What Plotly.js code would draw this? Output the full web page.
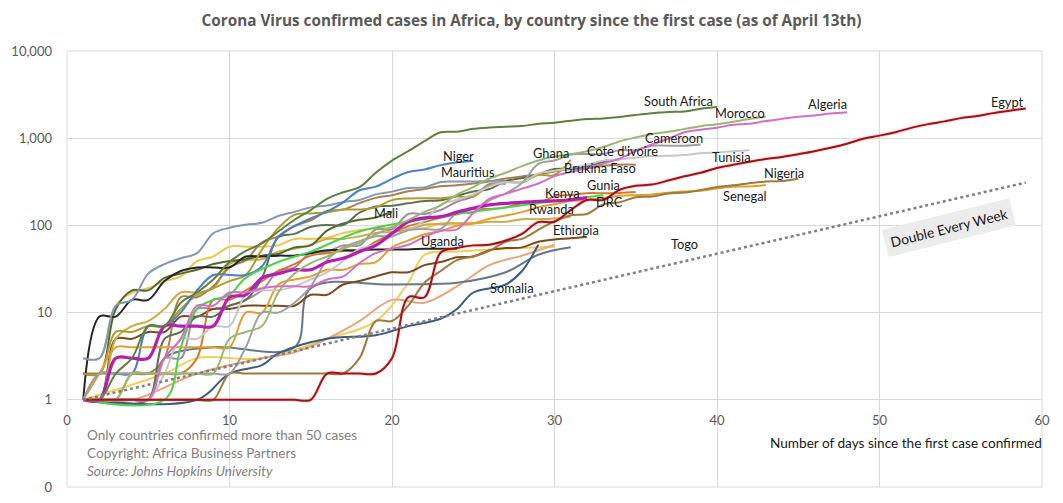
<!DOCTYPE html>
<html><head><meta charset="utf-8">
<script src="https://cdn.plot.ly/plotly-3.0.1.min.js"></script>
<style>html,body{margin:0;padding:0;background:#fff}#chart{width:1063px;height:503px}</style>
</head><body><div id="chart"></div>
<script>
// Daily cumulative confirmed cases, day 1 = first day on the chart
const egypt = [1,1,1,1,1,1,1,1,1,1,1,1,1,1,1,2,2,2,2,3,15,15,49,55,59,60,67,80,109,110,150,196,196,256,285,294,327,366,402,456,495,536,576,609,656,710,779,865,985,1070,1173,1322,1450,1560,1699,1794,1939,2065,2190];
const algeria = [1,1,1,1,1,3,5,12,12,17,17,19,20,20,20,24,26,37,48,54,60,74,87,90,139,201,230,264,302,367,409,454,511,584,716,847,986,1171,1251,1320,1423,1468,1572,1666,1761,1825,1914,1983];
const morocco = [1,1,1,2,2,2,2,2,2,5,6,7,17,28,37,44,54,63,79,96,115,143,170,225,275,345,402,479,556,617,654,708,791,919,1021,1120,1184,1275,1374,1448,1545,1661,1763];
const southAfrica = [1,1,2,3,7,7,13,17,24,38,51,62,85,116,150,202,240,274,402,554,709,927,1170,1187,1280,1326,1353,1380,1462,1505,1585,1655,1686,1749,1845,1934,2003,2028,2173,2272];
const nigeria = [1,1,1,1,1,1,1,1,1,2,2,2,2,2,2,2,2,3,8,8,12,22,30,40,44,51,65,70,89,111,131,135,174,184,210,214,232,238,254,276,288,305,318,323,343];
const senegal = [1,2,4,4,4,4,4,4,4,4,10,10,21,24,26,31,31,36,38,56,67,79,86,99,105,119,130,142,162,175,190,195,207,219,222,226,237,244,250,265,278,280,291];
const tunisia = [1,1,1,1,1,2,5,5,7,7,16,18,18,20,24,29,39,54,60,75,89,114,173,197,227,278,312,312,394,423,455,495,553,574,596,623,628,643,671,685,707,726];
const cameroon = [1,2,2,2,2,2,2,2,2,2,4,10,10,13,20,40,56,66,75,75,88,91,91,139,139,193,233,306,509,555,650,658,658,730,730,820,820,820,848];
const coteDivoire = [1,1,1,1,1,5,6,9,9,12,14,25,73,80,96,101,101,140,165,168,179,190,194,218,245,261,323,349,384,444,444,480,533,574];
const ghana = [2,2,6,6,7,7,11,16,19,23,27,53,93,132,137,141,152,152,161,195,204,205,205,214,214,287,313,313,378,378,566];
const niger = [1,2,2,2,7,7,10,18,27,27,27,34,74,98,120,144,184,253,278,342,410,438,491,529,548];
const mauritius = [3,3,12,14,28,36,42,48,81,94,102,107,128,143,161,169,186,196,227,244,268,273,314,318,319,324,324];
const burkinaFaso = [2,2,2,2,2,3,15,15,20,33,40,64,75,99,114,146,152,180,207,222,246,261,282,288,302,318,345,364,384,414,443,448,484,497,497];
const kenya = [1,1,3,3,3,7,7,7,7,15,16,25,28,31,31,38,42,50,59,81,110,122,126,142,158,172,179,184,189,191,197,208];
const drc = [1,1,1,2,2,2,2,3,14,14,18,23,30,36,45,48,51,51,65,81,98,109,123,134,154,154,161,180,180,215,223,234,234,235,241];
const rwanda = [1,1,5,7,8,11,17,17,19,36,40,41,50,54,60,70,70,75,82,84,89,102,104,105,105,110,110,118,118,120,126];
const ethiopia = [1,1,5,5,6,6,9,9,11,11,12,12,12,12,16,16,21,23,26,29,29,35,38,43,44,52,55,56,65,69,71,74];
const uganda = [1,9,9,14,14,23,30,33,33,33,44,44,45,45,48,52,52,52,53,53,53,54,54,54];
const mali = [2,2,11,18,18,25,28,31,36,39,41,45,47,56,59,87,105,116,123,144];
const djibouti = [1,1,1,1,1,3,3,11,11,12,14,18,30,33,49,50,59,59,90,90,135,135,150,187,214,298,298];
const madagascar = [3,3,12,17,19,23,26,39,44,57,57,57,59,70,70,72,82,88,93,93,93,93,106,106,108];

// Series read at selected days
const guineaDays = [1,6,7,8,9,10,11,13,15,18,21,24,27,30,33];
const guineaCases = [1,1,4,11,14,16,25,38,50,85,110,135,160,190,222];
const somaliaDays = [1,8,10,12,13,16,19,21,23,24,25,27,28,29];
const somaliaCases = [1,1,2,2.5,3.4,5,5.5,7,8.5,11,17,21,30,60];
const congoDays = [1,5,6,9,14,15,20,24,27,29,31];
const congoCases = [1,1,3,4,4,19,21,22,29,46,56];
const gabonDays = [1,6,8,12,16,19,21,22,24,27,30];
const gabonCases = [1,2,3,3,5,8,22,46,50,54,57];
const liberiaDays = [1,4,8,12,14,16,18,20,22,24,26,28,30];
const liberiaCases = [1,1,2,3,3.5,5,8,14,13,20,35,45,60];

// Reference line: doubling every week
const doubleDays = [1,59];
const doubleCases = [1,310];

// Axis ticks
const yTickVals = [0.1,1,10,100,1000,10000];
const yTickText = ['0','1','10','100','1,000','10,000'];
const xTickVals = [0,10,20,30,40,50,60];

// Country labels (day, log10 cases)
const labelText = ['South Africa','Morocco','Algeria','Egypt','Cameroon',"Cote d'ivoire",'Tunisia','Niger','Ghana','Mauritius','Brukina Faso','Nigeria','Gunia','Kenya','DRC','Senegal','Mali','Rwanda','Ethiopia','Uganda','Togo','Somalia'];
const labelDay = [37.6,41.4,46.8,57.9,37.35,34.2,40.9,24.1,29.8,24.7,32.8,44.1,33.0,30.5,33.4,41.7,19.6,29.8,31.3,23.1,38.0,27.4];
const labelLog = [3.427,3.289,3.392,3.415,3.002,2.853,2.784,2.796,2.830,2.610,2.660,2.601,2.465,2.372,2.270,2.337,2.142,2.188,1.947,1.821,1.787,1.282];

const daily = v => v.map((_, i) => i + 1);
function line(xs, ys, color, width) {
  return {x: xs, y: ys, type: 'scatter', mode: 'lines', hoverinfo: 'skip',
    line: {color: color, width: width || 2, shape: 'spline', smoothing: 1}};
}

const traces = [
  line(daily(madagascar), madagascar, '#ecc650'),
  line(gabonDays, gabonCases, '#f0cf5a'),
  line(liberiaDays, liberiaCases, '#e8a57a'),
  line(congoDays, congoCases, '#66778a'),
  line(somaliaDays, somaliaCases, '#3b5c80'),
  line(daily(djibouti), djibouti, '#a38ca8'),
  line(daily(ethiopia), ethiopia, '#7a4a1f'),
  line(daily(rwanda), rwanda, '#c9ad48'),
  line(daily(drc), drc, '#d07a2a'),
  line(daily(burkinaFaso), burkinaFaso, '#a9804c'),
  line(daily(mali), mali, '#4f6b2c'),
  line(daily(uganda), uganda, '#262626'),
  line(daily(coteDivoire), coteDivoire, '#5f7050'),
  line(daily(ghana), ghana, '#b39a2d'),
  line(daily(mauritius), mauritius, '#8197b5'),
  line(daily(niger), niger, '#4b7fbf'),
  line(daily(senegal), senegal, '#e0a030'),
  line(daily(nigeria), nigeria, '#9c7a3c'),
  line(daily(tunisia), tunisia, '#c6c6c6'),
  line(daily(cameroon), cameroon, '#a0a0a0'),
  line(guineaDays, guineaCases, '#4fd14f'),
  line(daily(kenya), kenya, '#b31fb3', 3.2),
  line(daily(morocco), morocco, '#98b872'),
  line(daily(southAfrica), southAfrica, '#5e803f'),
  line(daily(algeria), algeria, '#d36ec8'),
  line(daily(egypt), egypt, 'rgba(230,110,110,0.22)', 4),
  line(daily(egypt), egypt, '#9e1218', 2),
  {x: doubleDays, y: doubleCases, type: 'scatter', mode: 'lines', hoverinfo: 'skip',
   line: {color: '#7f7f7f', width: 2.5, dash: 'dot'}}
];

const font = 'Lato, "Open Sans", sans-serif';
const annotations = labelText.map((t, i) => ({
  x: labelDay[i], y: labelLog[i], xref: 'x', yref: 'y', text: t, showarrow: false, borderpad: 0,
  font: {family: font, size: 12.8, color: '#1a1a1a'}
}));
annotations.push({x: 54.3, y: 1.975, xref: 'x', yref: 'y', text: 'Double Every Week', showarrow: false,
  textangle: -14, bgcolor: '#ececec', borderpad: 5, font: {family: font, size: 13.8, color: '#1a1a1a'}});
const noteFont = {family: font, size: 13.6, color: '#7f7f7f'};
annotations.push({x: 0.0185, y: 0.12, xref: 'paper', yref: 'paper', xanchor: 'left', yanchor: 'middle',
  text: 'Only countries confirmed more than 50 cases', showarrow: false, font: noteFont});
annotations.push({x: 0.0185, y: 0.079, xref: 'paper', yref: 'paper', xanchor: 'left', yanchor: 'middle',
  text: 'Copyright: Africa Business Partners', showarrow: false, font: noteFont});
annotations.push({x: 0.0185, y: 0.037, xref: 'paper', yref: 'paper', xanchor: 'left', yanchor: 'middle',
  text: '<i>Source: Johns Hopkins University</i>', showarrow: false, font: noteFont});
annotations.push({x: 1.002, y: 0.101, xref: 'paper', yref: 'paper', xanchor: 'right', yanchor: 'middle',
  text: 'Number of days since the first case confirmed', showarrow: false, font: {family: font, size: 13.6, color: '#1a1a1a'}});

const layout = {
  width: 1063, height: 503,
  margin: {l: 67, r: 21, t: 51, b: 16},
  paper_bgcolor: '#ffffff', plot_bgcolor: '#ffffff',
  showlegend: false, hovermode: false,
  title: {text: '<b>Corona Virus confirmed cases in Africa, by country since the first case (as of April 13th)</b>',
    x: 0.5, xanchor: 'center', y: 0.958, yanchor: 'middle', font: {family: '"Open Sans", Lato, sans-serif', size: 15.3, color: '#595959'}},
  xaxis: {range: [0, 60], tickvals: xTickVals, showgrid: true, gridcolor: '#d9d9d9', gridwidth: 1,
    zeroline: false, showline: false, ticks: '', anchor: 'free', position: 0.1995,
    tickfont: {family: font, size: 13, color: '#595959'}, ticklabelstandoff: 11},
  yaxis: {type: 'log', range: [-1, 4], tickvals: yTickVals, ticktext: yTickText, showgrid: true,
    gridcolor: '#d9d9d9', gridwidth: 1, zeroline: false, showline: false, ticks: '',
    tickfont: {family: font, size: 13, color: '#595959'}, ticklabelstandoff: 14},
  shapes: [{type: 'rect', xref: 'paper', yref: 'paper', x0: 0, x1: 1, y0: 0, y1: 1,
    line: {color: '#d9d9d9', width: 1}, layer: 'below'}],
  annotations: annotations
};

Plotly.newPlot('chart', traces, layout, {staticPlot: true, displayModeBar: false});
</script>
</body></html>
